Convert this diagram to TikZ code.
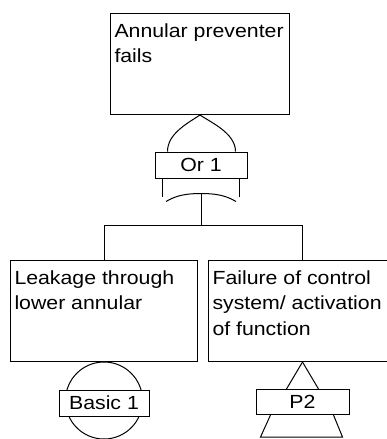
\documentclass[tikz,border=0pt]{standalone}
\usepackage{fontspec}
\setmainfont{Liberation Sans}[FakeStretch=1.12]
\usepackage{tikz}
\usetikzlibrary{calc, positioning}

\tikzset{
  event/.style={draw, anchor=north west, minimum height=101pt, inner sep=0pt},
  eventtext/.style={anchor=north west, align=left, inner xsep=4pt, inner ysep=10pt},
  gatebox/.style={draw, fill=white, minimum width=92pt, minimum height=26pt, inner sep=0pt}
}

\begin{document}
\begin{tikzpicture}[x=1pt, y=-1pt, line width=1pt, font=\fontsize{19}{25.5}\selectfont]
    \useasboundingbox (0,0) rectangle (387,439);
    \clip (0,0) rectangle (387,439);
    \node[event, minimum width=179pt, label={[eventtext]north west:{Annular preventer\\fails}}] (top) at (110,13) {};
    \node[event, minimum width=187pt, label={[eventtext]north west:{Leakage through\\lower annular}}] (leak) at (10,260) {};
    \node[event, minimum width=188pt, label={[eventtext]north west:{Failure of control\\system/ activation\\of function}}] (ctrl) at (208,260) {};

    \node[gatebox] (or1) at (201,165) {Or 1};
    \draw (top.south) .. controls +(-12,8) and +(0,-18) .. ($(or1.north west)+(13,0)$);
    \draw (top.south) .. controls +(12,8) and +(0,-18) .. ($(or1.north east)+(-12,0)$);
    \draw ($(or1.south west)+(8,0)$) -- +(0,18);
    \draw ($(or1.south east)+(-8,0)$) -- +(0,18);
    \coordinate (orout) at ($(or1.south)+(0,15)$);
    \draw ($(orout)+(-35,8)$) .. controls +(10,-6) and +(-15,0) .. (orout) .. controls +(15,0) and +(-10,-6) .. ($(orout)+(35,8)$);
    \draw (orout) -- ++(0,32) coordinate (bar);
    \draw (bar) -| (leak.north);
    \draw (bar) -| (ctrl.north);

    \draw ($(leak.south)+(0,38.5)$) circle (38.5pt);
    \node[gatebox, minimum width=90pt] (basic1) at ($(leak.south)+(0,41)$) {Basic 1};

    \node[gatebox, minimum width=93pt, minimum height=25pt] (p2) at ($(ctrl.south)+(0,40)$) {P2};
    \draw (ctrl.south) -- ($(p2.north)+(-16,0)$);
    \draw (ctrl.south) -- ($(p2.north)+(16,0)$);
    \draw ($(p2.south)+(-32,0)$) -- ($(p2.south)+(-42,22)$) -- ($(p2.south)+(40,22)$) -- ($(p2.south)+(31,0)$);
\end{tikzpicture}
\end{document}
